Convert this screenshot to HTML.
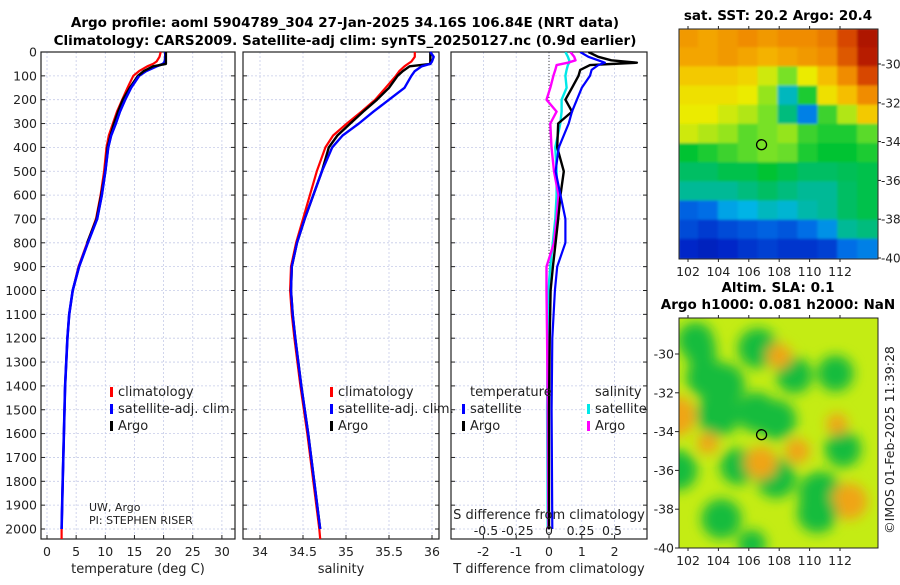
<!DOCTYPE html>
<html><head><meta charset="utf-8">
<style>
body{margin:0;background:#fff;}
svg text{font-family:"DejaVu Sans","Liberation Sans",sans-serif;fill:#222;}
.tk{font-size:12.5px;}
.tt{font-size:13.5px;font-weight:bold;fill:#000;}
</style></head>
<body>
<svg id="fig" width="900" height="580" viewBox="0 0 900 580" xmlns="http://www.w3.org/2000/svg">
<defs>
<filter id="blur" x="-10%" y="-10%" width="120%" height="120%"><feGaussianBlur stdDeviation="6"/></filter>
<filter id="blur1"><feGaussianBlur stdDeviation="1.2"/></filter>
<clipPath id="clipMap1"><rect x="679" y="29" width="199" height="230"/></clipPath>
<clipPath id="clipMap2"><rect x="679" y="318" width="199" height="230"/></clipPath>
<clipPath id="clipP3"><rect x="451" y="52" width="196" height="487"/></clipPath>
</defs>
<text class="tt" x="345" y="27" text-anchor="middle">Argo profile: aoml 5904789_304 27-Jan-2025 34.16S 106.84E (NRT data)</text>
<text class="tt" x="345" y="45" text-anchor="middle">Climatology: CARS2009. Satellite-adj clim: synTS_20250127.nc (0.9d earlier)</text>
<g id="layer"></g>
</svg>
<script>
// ---------- data ----------
const depthTicks = [0,100,200,300,400,500,600,700,800,900,1000,1100,1200,1300,1400,1500,1600,1700,1800,1900,2000];
const tempTicks = [0,5,10,15,20,25,30];
const salTicks = [34,34.5,35,35.5,36];
const salTickLabels = ["34","34.5","35","35.5","36"];
const tdTicks = [-2,-1,0,1,2];
const sdTicks = [-0.5,-0.25,0,0.25,0.5];
const sdTickLabels = ["-0.5","-0.25","0","0.25","0.5"];

const profDepth = [0,20,40,50,60,80,100,150,200,250,300,350,400,500,600,700,800,900,1000,1100,1200,1400,1600,1800,2000];
const tempClim = [19.5,19.3,18.8,18.2,17.2,15.8,14.8,13.8,12.9,12.0,11.3,10.6,10.2,9.8,9.2,8.4,6.9,5.4,4.4,3.8,3.5,3.1,2.9,2.7,2.5];
const tempSat  = [20.3,20.3,20.2,19.9,18.8,17.0,15.8,14.4,13.4,12.5,11.8,11.0,10.5,10.0,9.4,8.6,7.0,5.5,4.4,3.8,3.5,3.1,2.9,2.7,2.5];
const tempArgo = [20.4,20.4,20.4,20.4,18.2,16.6,15.6,14.2,13.0,12.2,11.5,10.9,10.4,10.0,9.3,8.5,6.9,5.5,4.4,3.8,3.5,3.1,2.9,2.7,2.5];
const salClim = [35.80,35.80,35.76,35.72,35.68,35.62,35.58,35.46,35.34,35.18,35.01,34.85,34.76,34.66,34.58,34.50,34.42,34.36,34.35,34.37,34.40,34.47,34.55,34.62,34.69];
const salSat  = [35.98,36.02,36.00,35.98,35.88,35.80,35.76,35.68,35.50,35.32,35.15,34.96,34.84,34.72,34.62,34.52,34.43,34.37,34.36,34.38,34.41,34.48,34.56,34.63,34.70];
const salArgo = [35.98,35.98,35.98,35.98,35.74,35.66,35.60,35.50,35.36,35.20,35.05,34.90,34.80,34.72,34.62,34.52,34.43,34.37,34.36,34.38,34.41,34.48,34.56,34.63,34.70];

const diffDepth = [0,20,35,45,55,75,100,150,200,250,300,400,500,600,700,800,900,1000,1200,1500,2000];
const tdArgo = [1.2,1.5,1.9,2.68,1.25,0.95,0.9,0.7,0.5,0.7,0.28,0.25,0.45,0.35,0.28,0.2,0.12,0.05,0.02,0.0,0.0];
const tdSat  = [0.95,1.2,1.5,1.7,1.5,1.3,1.25,1.0,0.85,0.7,0.6,0.3,0.2,0.35,0.5,0.5,0.25,0.18,0.1,0.08,0.1];
const sdArgo = [0.17,0.2,0.21,0.15,0.06,0.05,0.035,0.01,-0.02,0.06,0.01,0.02,0.04,0.075,0.06,0.04,-0.02,-0.02,-0.015,-0.01,-0.005];
const sdSat  = [0.13,0.15,0.16,0.16,0.15,0.14,0.13,0.14,0.1,0.1,0.09,0.05,0.06,0.06,0.05,0.03,0.01,-0.005,-0.01,-0.015,-0.01];

const latTicks = [-30,-32,-34,-36,-38,-40];
const lonTicks = [102,104,106,108,110,112];
const argoLon = 106.84, argoLat = -34.16;
// SST normalized (0=cold,1=warm), rows north->south, cols west->east
const sstGrid = [
[.78,.76,.78,.80,.78,.80,.80,.82,.88,.97],
[.76,.76,.78,.76,.74,.76,.78,.80,.86,.95],
[.70,.70,.70,.68,.62,.56,.64,.72,.80,.88],
[.66,.66,.66,.64,.58,.36,.50,.66,.72,.80],
[.64,.64,.62,.60,.56,.42,.26,.52,.60,.70],
[.62,.60,.58,.54,.56,.58,.52,.50,.50,.54],
[.48,.50,.52,.54,.56,.55,.50,.48,.48,.50],
[.44,.44,.46,.46,.48,.46,.44,.44,.45,.46],
[.40,.40,.40,.42,.44,.42,.40,.40,.44,.46],
[.22,.24,.30,.32,.36,.34,.38,.40,.44,.46],
[.18,.15,.18,.20,.22,.20,.24,.28,.40,.42],
[.12,.10,.12,.14,.16,.14,.14,.16,.24,.26]];
// SLA blobs: lon, lat, value (-1 low/green .. +1 high/orange)
const slaLon = [102.5,104.3,106.6,109.0,111.7,104.0,106.5,107.8,101.2,103.3,105.3,109.2,112.2,101.3,107.8,110.7,104.2,106.2,112.6,108.0,102.8,111.8,106.8,103.2,110.5];
const slaLat = [-29.3,-31.6,-29.7,-31.1,-31.0,-33.1,-33.0,-33.4,-33.2,-34.6,-35.8,-35.0,-34.9,-36.0,-36.4,-37.2,-38.5,-39.8,-37.6,-30.1,-29.8,-33.6,-35.6,-31.2,-38.2];
const slaVal = [-0.8,-1.0,-0.9,-0.8,-0.8,-1.0,-0.9,-0.9,0.9,0.4,-0.8,0.5,-0.8,-0.9,-0.9,-1.0,-0.9,-0.6,0.8,0.5,-0.7,0.4,0.7,-0.9,-0.9];

// ---------- helpers ----------
const NS="http://www.w3.org/2000/svg";
const layer=document.getElementById('layer');
function mk(tag,attrs,parent){const e=document.createElementNS(NS,tag);for(const k in attrs)e.setAttribute(k,attrs[k]);(parent||layer).appendChild(e);return e;}
const yTop=52,yBot=539,depthMax=(539-52)/0.2385;
const yD=d=>yTop+d*0.2385;
const P1={x0:41,x1:235}, P2={x0:243,x1:439}, P3={x0:451,x1:647};
const xT=v=>47+v*5.83;
const xS=v=>260+(v-34)*86;
const xTD=v=>549+v*32.8;
const xSD=v=>549+v*126;

function panel(P,name,xticks,xfun,xlabels,showDepth){
  const g=mk('g',{});
  
  
  depthTicks.forEach(d=>{mk('line',{x1:P.x0,x2:P.x1,y1:yD(d),y2:yD(d),stroke:'#c5cbe8','stroke-width':0.8,'stroke-dasharray':'2,2'},g);});
  xticks.forEach(v=>{mk('line',{x1:xfun(v),x2:xfun(v),y1:yTop,y2:yBot,stroke:'#c5cbe8','stroke-width':0.8,'stroke-dasharray':'2,2'},g);});
  depthTicks.forEach(d=>{mk('line',{x1:P.x0,x2:P.x0+4,y1:yD(d),y2:yD(d),stroke:'#222'},g);mk('line',{x1:P.x1,x2:P.x1-4,y1:yD(d),y2:yD(d),stroke:'#222'},g);
    if(showDepth){const t=mk('text',{x:P.x0-4,y:yD(d)+4.5,'text-anchor':'end',class:'tk'},g);t.textContent=d;}});
  xticks.forEach((v,i)=>{mk('line',{x1:xfun(v),x2:xfun(v),y1:yBot,y2:yBot-4,stroke:'#222'},g);
    if(xlabels){const t=mk('text',{x:xfun(v),y:556,'text-anchor':'middle',class:'tk'},g);t.textContent=xlabels[i];}});
  mk('rect',{x:P.x0,y:yTop,width:P.x1-P.x0,height:yBot-yTop,fill:'none',stroke:'#222','stroke-width':1.2},g);
  return g;
}
function line(xs,ds,xfun,color,w,name,clip){
  const pts=xs.map((v,i)=>xfun(v).toFixed(1)+','+yD(ds[i]).toFixed(1)).join(' ');
  const p=mk('polyline',{points:pts,fill:'none',stroke:color,'stroke-width':w,'stroke-linejoin':'round'});
  if(clip)p.setAttribute('clip-path',clip);
  
  
}
function txt(x,y,s,cls,anchor,name,extra){const t=mk('text',Object.assign({x:x,y:y,class:cls||'tk','text-anchor':anchor||'start'},extra||{}));t.textContent=s;return t;}

// Panel 1: temperature
panel(P1,'temperature-panel',tempTicks,xT,tempTicks.map(String),true);
line(tempClim.concat([2.5]),profDepth.concat([depthMax]),xT,'#ff0000',2.2,'temp-climatology-line');
line(tempSat,profDepth,xT,'#0000ff',2.6,'temp-satellite-line');
line(tempArgo.slice(0,17),profDepth.slice(0,17),xT,'#000000',2.4,'temp-argo-line');
line(tempSat.slice(6),profDepth.slice(6),xT,'#0000ff',2.4,'temp-satellite-line-over');
txt(138,573,'temperature (deg C)','tk','middle','temperature-axis-title',{style:'font-size:13px'});
// Panel 2: salinity
panel(P2,'salinity-panel',salTicks,xS,salTickLabels,false);
line(salClim.concat([34.7]),profDepth.concat([depthMax]),xS,'#ff0000',2.2,'sal-climatology-line');
line(salArgo,profDepth,xS,'#000000',2.4,'sal-argo-line');
line(salSat,profDepth,xS,'#0000ff',2.4,'sal-satellite-line');
txt(341,573,'salinity','tk','middle','salinity-axis-title',{style:'font-size:13px'});
// Panel 3: differences
panel(P3,'difference-panel',tdTicks,xTD,tdTicks.map(String),false);
mk('line',{x1:549,x2:549,y1:yTop,y2:yBot,stroke:'#444','stroke-width':1,'stroke-dasharray':'1,2'});
line(sdSat,diffDepth,xSD,'#00e8e8',2.4,'sal-diff-satellite-line','url(#clipP3)');
line(sdArgo,diffDepth,xSD,'#ff00ff',2.4,'sal-diff-argo-line','url(#clipP3)');
line(tdArgo,diffDepth,xTD,'#000000',2.4,'temp-diff-argo-line','url(#clipP3)');
line(tdSat,diffDepth,xTD,'#0000ff',2.2,'temp-diff-satellite-line','url(#clipP3)');
txt(549,573,'T difference from climatology','tk','middle','t-diff-axis-title',{style:'font-size:13px'});
txt(549,519,'S difference from climatology','tk','middle','s-diff-axis-title',{style:'font-size:13px'});
sdTicks.forEach((v,i)=>txt(xSD(v),535,sdTickLabels[i],'tk','middle','s-diff-tick-label'));

// legends
function legItem(x,y,color,label,name){
  const r=mk('rect',{x:x,y:y-9,width:3,height:10,fill:color});
  
  txt(x+8,y,label,'tk','start',name,{style:'font-size:13px'});
}
legItem(110,396,'#ff0000','climatology','legend-temp-climatology');
legItem(110,413,'#0000ff','satellite-adj. clim.','legend-temp-satellite');
legItem(110,430,'#000000','Argo','legend-temp-argo');
legItem(330,396,'#ff0000','climatology','legend-sal-climatology');
legItem(330,413,'#0000ff','satellite-adj. clim.','legend-sal-satellite');
legItem(330,430,'#000000','Argo','legend-sal-argo');
txt(470,396,'temperature','tk','start','legend-diff-temperature-header',{style:'font-size:13px'});
legItem(462,413,'#0000ff','satellite','legend-diff-temp-satellite');
legItem(462,430,'#000000','Argo','legend-diff-temp-argo');
txt(595,396,'salinity','tk','start','legend-diff-salinity-header',{style:'font-size:13px'});
legItem(587,413,'#00e8e8','satellite','legend-diff-sal-satellite');
legItem(587,430,'#ff00ff','Argo','legend-diff-sal-argo');
txt(89,511,'UW, Argo','tk','start','institution-label',{style:'font-size:11px'});
txt(89,524,'PI: STEPHEN RISER','tk','start','pi-label',{style:'font-size:11px'});

// ---------- maps ----------
const M1={x0:679,x1:878,y0:29,y1:259}, M2={x0:679,x1:878,y0:318,y1:548};
const lonX=(M,lon)=>688+(lon-102)*15.2;
const latY=(M,lat)=>M.y0+ (M===M1?35:36) + (-30-lat)*19.4;
const cmapStops=[[0,[0,0,140]],[0.12,[0,40,200]],[0.24,[0,110,230]],[0.32,[0,180,230]],[0.40,[0,185,150]],[0.48,[0,195,50]],[0.56,[120,225,40]],[0.64,[235,235,0]],[0.72,[245,190,0]],[0.80,[240,140,0]],[0.88,[215,70,0]],[1,[160,0,0]]];
function cmap(v){
  for(let i=1;i<cmapStops.length;i++){
    if(v<=cmapStops[i][0]){const a=cmapStops[i-1],b=cmapStops[i];const t=(v-a[0])/(b[0]-a[0]);
      return 'rgb('+a[1].map((c,k)=>Math.round(c+(b[1][k]-c)*t)).join(',')+')';}
  }
  return 'rgb(160,0,0)';
}
// map 1 SST
const rows=sstGrid.length, cols=sstGrid[0].length;
const cw=(M1.x1-M1.x0)/cols, ch=(M1.y1-M1.y0)/rows;
const sstG=mk('g',{'clip-path':'url(#clipMap1)'});
const sstInner=mk('g',{filter:'url(#blur1)'},sstG);
sstGrid.forEach((row,i)=>row.forEach((v,j)=>{
  const r=mk('rect',{x:(M1.x0+j*cw-1).toFixed(1),y:(M1.y0+i*ch-1).toFixed(1),width:(cw+2).toFixed(1),height:(ch+2).toFixed(1),fill:cmap(v)},sstInner);
  
  
}));
// map 2 SLA
mk('rect',{x:M2.x0,y:M2.y0,width:199,height:230,fill:'#c4ec14'});
const blobG=mk('g',{filter:'url(#blur)','clip-path':'url(#clipMap2)'});
slaLon.forEach((lon,i)=>{
  const v=slaVal[i];
  const col=v<0?'#14bc3c':'#f0a418';
  const c=mk('circle',{cx:lonX(M2,lon),cy:latY(M2,slaLat[i]),r:Math.abs(v)*19+3,fill:col},blobG);
  
  
});
function mapFrame(M,name,titles,labelsRight){
  mk('rect',{x:M.x0,y:M.y0,width:M.x1-M.x0,height:M.y1-M.y0,fill:'none',stroke:'#222','stroke-width':1});
  latTicks.forEach(l=>{const y=latY(M,l);
    if(labelsRight){mk('line',{x1:M.x1,x2:M.x1+3,y1:y,y2:y,stroke:'#222'});txt(M.x1+3,y+4.5,String(l),'tk','start',name+'-lat-label',{style:'font-size:12px'});}
    else{mk('line',{x1:M.x0,x2:M.x0-4,y1:y,y2:y,stroke:'#222'});txt(M.x0-5,y+4.5,String(l),'tk','end',name+'-lat-label');}
  });
  lonTicks.forEach(l=>{const x=lonX(M,l);mk('line',{x1:x,x2:x,y1:M.y1,y2:M.y1+3,stroke:'#222'});mk('line',{x1:x,x2:x,y1:M.y0,y2:M.y0-3,stroke:'#222'});txt(x,M.y1+17,String(l),'tk','middle',name+'-lon-label');});
  const c=mk('circle',{cx:lonX(M,argoLon),cy:latY(M,argoLat),r:5,fill:'none',stroke:'#000','stroke-width':1.3});
  
  
  titles.forEach((t,i)=>txt(778,M.y0-9-(titles.length-1-i)*17,t,'tt','middle',name+'-title'));
}
mapFrame(M1,'sst-map',['sat. SST: 20.2 Argo: 20.4'],true);
mapFrame(M2,'sla-map',['Altim. SLA: 0.1','Argo h1000: 0.081 h2000: NaN'],false);
txt(0,0,'©IMOS 01-Feb-2025 11:39:28','tk','middle','timestamp-label',{transform:'translate(894,440) rotate(-90)',style:'font-size:12.5px'});
</script>
</body></html>
